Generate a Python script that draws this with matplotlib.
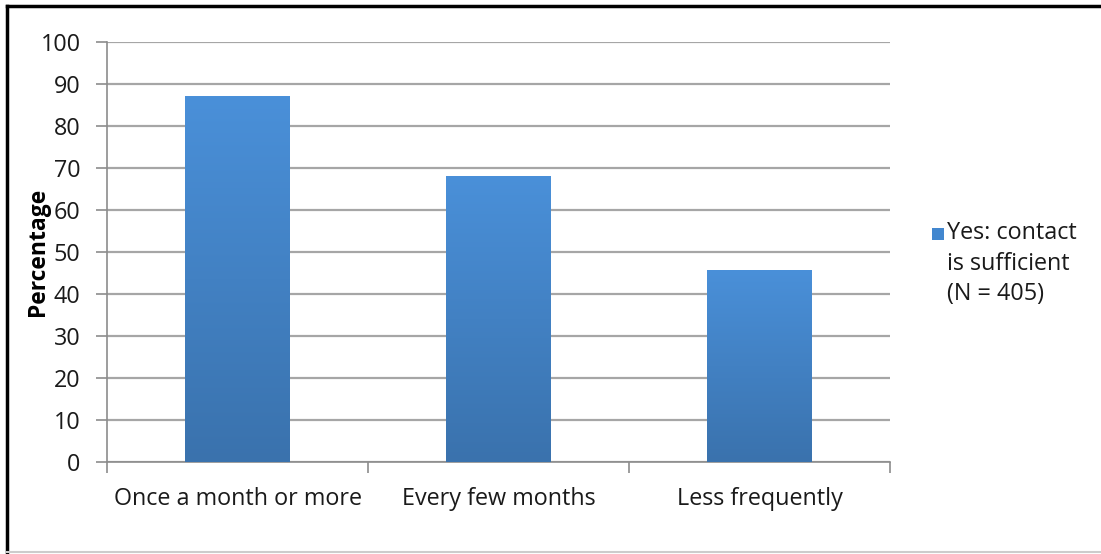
import matplotlib.pyplot as plt
import numpy as np
from matplotlib.colors import LinearSegmentedColormap
from matplotlib.lines import Line2D
from matplotlib.patches import Rectangle

# survey results: share who say contact is sufficient, by contact frequency
categories = ['Once a month or more', 'Every few months', 'Less frequently']
percentages = [87.1, 68.1, 45.8]
series_label = 'Yes: contact\nis sufficient\n(N = 405)'

plt.rcParams['font.family'] = ['Open Sans', 'DejaVu Sans']
FS = 16.8

fig = plt.figure(figsize=(11.01, 5.54), dpi=100)
ax = fig.add_axes([0.0972, 0.166, 0.7111, 0.7582])

x = np.arange(len(categories))
bars = ax.bar(x, percentages, width=0.40, color='#4287cf', zorder=2)

# vertical gradient inside each bar, lighter at the top
grad_cmap = LinearSegmentedColormap.from_list('bar', ['#3a72ad', '#4a90d9'])
grad = np.linspace(0, 1, 256).reshape(-1, 1)
for b in bars:
    x0, y0 = b.get_x(), b.get_y()
    im = ax.imshow(grad, cmap=grad_cmap, origin='lower', aspect='auto',
                   extent=[x0, x0 + b.get_width(), y0, y0 + b.get_height()],
                   zorder=3)
    im.set_clip_path(b)

ax.set_xlim(-0.5, len(categories) - 0.5)
ax.set_ylim(0, 100)
ax.set_yticks(range(0, 101, 10))
ax.set_xticks(np.arange(-0.5, len(categories), 1.0))
ax.set_xticklabels([])
ax.set_xticks(x, minor=True)
ax.set_xticklabels(categories, minor=True, fontsize=FS, color='#1a1a1a')
ax.tick_params(axis='x', which='minor', length=0, pad=18)
ax.tick_params(axis='x', which='major', length=8, color='#8c8c8c', width=1.2)
ax.tick_params(axis='y', length=8, color='#8c8c8c', width=1.2,
               labelsize=FS, labelcolor='#1a1a1a', pad=11)

ax.yaxis.grid(True, color='#a6a6a6', linewidth=1.6, zorder=0)
ax.set_axisbelow(True)
for side in ['top', 'right']:
    ax.spines[side].set_visible(False)
for side in ['left', 'bottom']:
    ax.spines[side].set_color('#8c8c8c')
    ax.spines[side].set_linewidth(1.2)

ax.set_ylabel('Percentage', fontsize=FS - 0.3, fontweight='bold')
ax.yaxis.set_label_coords(-0.073, 0.5)

# legend: square key beside the first line of the label
fig.add_artist(Rectangle((0.8465, 0.567), 0.0105, 0.0215,
                         transform=fig.transFigure, facecolor='#4287cf',
                         edgecolor='none'))
fig.text(0.860, 0.601, series_label, fontsize=FS, va='top', ha='left',
         color='#1a1a1a', linespacing=1.36)

# frame around the figure
fig.add_artist(Line2D([0.0064, 1.0], [0.9892, 0.9892], color='black', lw=2.5))
fig.add_artist(Line2D([0.0064, 0.0064], [0.003, 0.9892], color='black', lw=2.5))
fig.add_artist(Line2D([0.0064, 1.0], [0.003, 0.003], color='#cccccc', lw=1.5))

fig.savefig('out.png', dpi=100)
